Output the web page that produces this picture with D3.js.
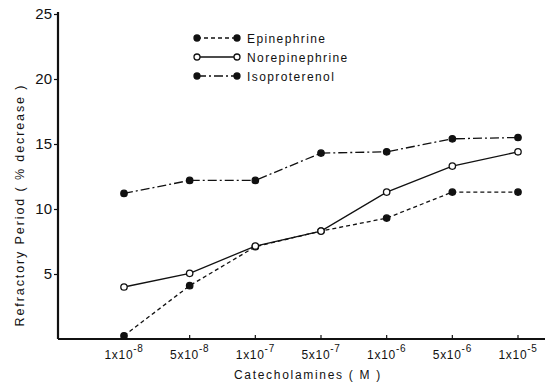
<!DOCTYPE html>
<html>
<head>
<meta charset="utf-8">
<script src="https://cdn.jsdelivr.net/npm/d3@7"></script>
<style>
  body { margin: 0; background: #fff; }
  text { font-family: "Liberation Sans", Arial, sans-serif; fill: #111; }
</style>
</head>
<body>
<svg id="chart" width="555" height="385"></svg>
<script>
// data
const concentrations = ["1x10-8", "5x10-8", "1x10-7", "5x10-7", "1x10-6", "5x10-6", "1x10-5"];
const tickMant = ["1", "5", "1", "5", "1", "5", "1"];
const tickExp = ["-8", "-8", "-7", "-7", "-6", "-6", "-5"];
const epinephrine = [0.25, 4.1, 7.1, 8.3, 9.3, 11.3, 11.3];
const norepinephrine = [4.0, 5.05, 7.15, 8.3, 11.3, 13.3, 14.4];
const isoproterenol = [11.2, 12.2, 12.2, 14.3, 14.4, 15.4, 15.5];
const yTicks = [5, 10, 15, 20, 25];

function MakeChart() {
    const svg = d3.select("#chart");
    svg.selectAll("*").remove();

    const margin = {left: 58, top: 14};
    const plotW = 487, plotH = 325;
    const g = svg.append("g").attr("transform", `translate(${margin.left},${margin.top})`);

    const x = d3.scalePoint().domain(concentrations).range([66, 460]);
    const y = d3.scaleLinear().domain([0, 25]).range([plotH, 0]);

    // y axis
    const yAxis = g.append("g")
        .call(d3.axisLeft(y).tickValues(yTicks).tickSize(4).tickFormat(d3.format("d")));
    yAxis.select(".domain").remove();
    yAxis.selectAll(".tick line").attr("stroke", "#111").attr("stroke-width", 1.2);
    yAxis.selectAll(".tick text")
        .attr("x", -6)
        .style("font-size", "15px")
        .style("font-family", "'Liberation Sans', Arial, sans-serif");
    g.append("line")
        .attr("x1", 0).attr("x2", 0).attr("y1", -2).attr("y2", plotH)
        .attr("stroke", "#111").attr("stroke-width", 2.2);

    // x axis
    g.append("line")
        .attr("x1", 0).attr("x2", plotW).attr("y1", plotH).attr("y2", plotH)
        .attr("stroke", "#111").attr("stroke-width", 2.2);
    const xt = g.append("g").selectAll("g").data(concentrations).join("g")
        .attr("transform", d => `translate(${x(d)},${plotH})`);
    xt.append("line").attr("y1", 0).attr("y2", -4).attr("stroke", "#111").attr("stroke-width", 1.2);
    const lbl = xt.append("text")
        .attr("y", 20)
        .attr("text-anchor", "middle")
        .style("font-size", "12px")
        .style("letter-spacing", "0.7px");
    lbl.append("tspan").text((d, i) => tickMant[i] + "x10");
    lbl.append("tspan").attr("dy", -7).style("font-size", "10px").text((d, i) => tickExp[i]);

    // series
    const series = [
        {name: "Epinephrine", values: epinephrine, dash: "4,3", fill: "#111"},
        {name: "Norepinephrine", values: norepinephrine, dash: null, fill: "#fff"},
        {name: "Isoproterenol", values: isoproterenol, dash: "9,3,2,3", fill: "#111"}
    ];

    const line = d3.line()
        .x((d, i) => x(concentrations[i]))
        .y(d => y(d));

    series.forEach(s => {
        g.append("path").datum(s.values)
            .attr("fill", "none")
            .attr("stroke", "#111")
            .attr("stroke-width", 1.3)
            .attr("stroke-dasharray", s.dash)
            .attr("d", line);
        g.append("g").selectAll("circle").data(s.values).join("circle")
            .attr("cx", (d, i) => x(concentrations[i]))
            .attr("cy", d => y(d))
            .attr("r", 3.2)
            .attr("fill", s.fill)
            .attr("stroke", "#111")
            .attr("stroke-width", 1.3);
    });

    // legend
    const legend = g.append("g").attr("transform", "translate(139, 24)");
    series.forEach((s, i) => {
        const row = legend.append("g").attr("transform", `translate(0, ${i * 19})`);
        row.append("line")
            .attr("x1", 0).attr("x2", 40).attr("y1", 0).attr("y2", 0)
            .attr("stroke", "#111").attr("stroke-width", 1.3)
            .attr("stroke-dasharray", s.dash);
        row.selectAll("circle").data([0, 40]).join("circle")
            .attr("cx", d => d).attr("cy", 0).attr("r", 3)
            .attr("fill", s.fill).attr("stroke", "#111").attr("stroke-width", 1.3);
        row.append("text")
            .attr("x", 50).attr("y", 4.5)
            .style("font-size", "12px")
            .style("letter-spacing", "1.4px")
            .text(s.name);
    });

    // axis labels
    g.append("text")
        .attr("x", 250).attr("y", plotH + 40)
        .attr("text-anchor", "middle")
        .style("font-size", "12px")
        .style("letter-spacing", "1.7px")
        .text("Catecholamines ( M )");
    g.append("text")
        .attr("transform", "rotate(-90)")
        .attr("x", -191).attr("y", -34)
        .attr("text-anchor", "middle")
        .style("font-size", "12.5px")
        .style("letter-spacing", "1.9px")
        .text("Refractory  Period  ( % decrease )");
}

MakeChart();
</script>
</body>
</html>
